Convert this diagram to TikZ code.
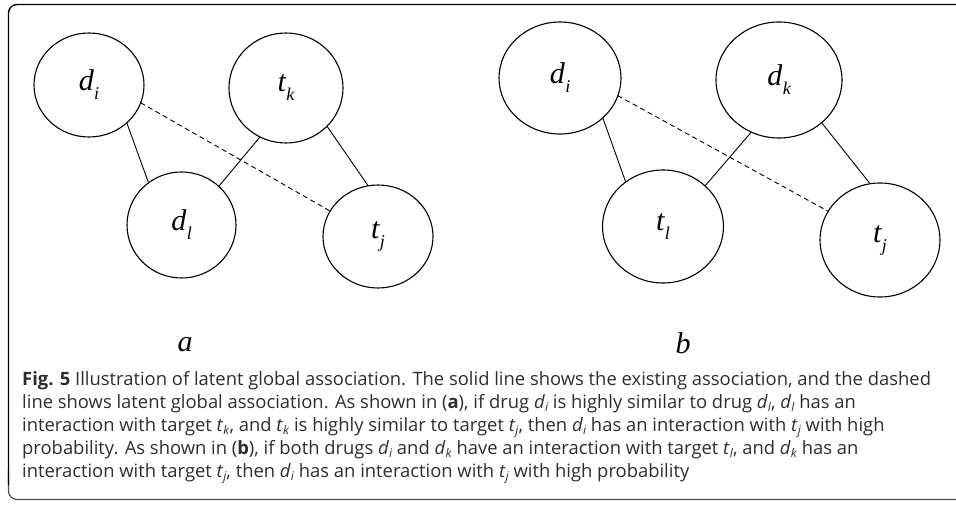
\documentclass[tikz,border=0pt]{standalone}
\usepackage{fontspec}
\setmainfont{Open Sans}
\newfontfamily\serif{Liberation Serif}
\usetikzlibrary{shapes.geometric}
\definecolor{captxt}{HTML}{2E2E2E}
\newcommand{\lab}[2]{{\serif\itshape\fontsize{30}{30}\selectfont #1\kern0.5pt\raisebox{-9pt}{\fontsize{18}{18}\selectfont #2}}}
\newcommand{\cs}[2]{\textit{#1}\raisebox{-3pt}{\fontsize{12}{12}\selectfont\textit{#2}}}
\begin{document}
\begin{tikzpicture}[x=1pt,y=-1pt,
  vert/.style={ellipse,draw,line width=1.1pt,inner sep=0pt,outer sep=0pt},
  edge/.style={line width=0.9pt},
  latent/.style={line width=0.9pt,dash pattern=on 5pt off 3.5pt},
  capline/.style={anchor=base west,inner sep=0pt,text=captxt,font=\fontsize{18.4}{21}\selectfont},
  panel/.style={font=\serif\itshape\fontsize{30}{30}\selectfont,inner sep=0pt}]
\useasboundingbox (0,0) rectangle (956,505);
% frame
\draw[line width=1.2pt,black!70,rounded corners=8.5pt] (8.5,470) -- (8.5,499.5) -- (956,499.5);
\draw[line width=1.4pt,rounded corners=8.5pt] (956,4.5) -- (8.5,4.5) -- (8.5,485);
% panel a
\node[vert,minimum width=110pt,minimum height=104pt] (ai) at (89,85) {\lab{d}{i}};
\node[vert,minimum width=114pt,minimum height=110pt] (ak) at (286,88) {\lab{t}{k}};
\node[vert,minimum width=109pt,minimum height=106pt] (al) at (181.5,225) {\lab{d}{l}};
\node[vert,minimum width=110pt,minimum height=103pt] (aj) at (378,236.5) {\lab{t}{j}};
\draw[edge] (ai.-45) -- (al.128);
\draw[edge] (ak.-118) -- (al.46);
\draw[edge] (ak.-43) -- (aj.101);
\draw[latent] (ai.-19.4) -- (aj.152);
\node[panel] (pa) at (185,345) {a};
% panel b
\node[vert,minimum width=122pt,minimum height=112pt] (bi) at (560,78) {\lab{d}{i}};
\node[vert,minimum width=126pt,minimum height=116pt] (bk) at (779,80) {\lab{d}{k}};
\node[vert,minimum width=121pt,minimum height=113pt] (bl) at (663,226.5) {\lab{t}{l}};
\node[vert,minimum width=120pt,minimum height=114pt] (bj) at (880,240) {\lab{t}{j}};
\draw[edge] (bi.-43.3) -- (bl.130);
\draw[edge] (bk.-118) -- (bl.44);
\draw[edge] (bk.-45) -- (bj.100);
\draw[latent] (bi.-17.7) -- (bj.151);
\node[panel] (pb) at (683,343) {b};
% caption
\node[capline] (c1) at (22,385) {\textbf{Fig. 5} Illustration of latent global association. The solid line shows the existing association, and the dashed};
\node[capline] (c2) at (22,408) {line shows latent global association. As shown in (\textbf{a}), if drug \cs{d}{i} is highly similar to drug \cs{d}{l}, \cs{d}{l} has an};
\node[capline] (c3) at (22,431) {interaction with target \cs{t}{k}, and \cs{t}{k} is highly similar to target \cs{t}{j}, then \cs{d}{i} has an interaction with \cs{t}{j} with high};
\node[capline] (c4) at (22,454) {probability. As shown in (\textbf{b}), if both drugs \cs{d}{i} and \cs{d}{k} have an interaction with target \cs{t}{l}, and \cs{d}{k} has an};
\node[capline] (c5) at (22,477) {interaction with target \cs{t}{j}, then \cs{d}{i} has an interaction with \cs{t}{j} with high probability};
\end{tikzpicture}
\end{document}
